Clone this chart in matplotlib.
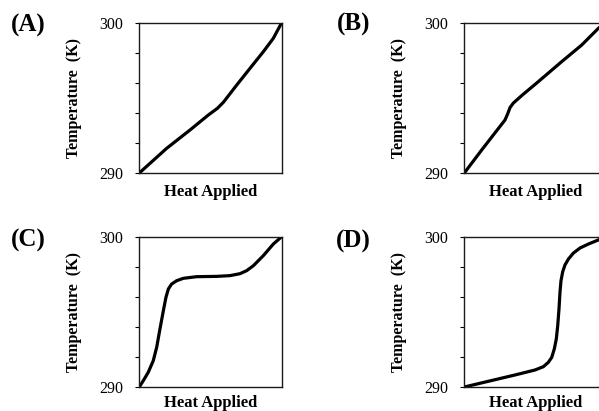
import matplotlib
matplotlib.use("Agg")
import matplotlib.pyplot as plt

# values (heat is a fraction of the x range)
a_heat = [0, 0.192, 0.356, 0.485, 0.548, 0.59, 0.684, 0.777, 0.871, 0.941, 1.0]
a_temp = [290, 291.64, 292.86, 293.86, 294.30, 294.70, 295.85, 296.96, 298.07, 298.96, 300]

b_heat = [0, 0.122, 0.286, 0.305, 0.321, 0.344, 0.403, 0.52, 0.684, 0.824, 0.941, 1.0]
b_temp = [290, 291.53, 293.53, 293.95, 294.35, 294.65, 295.15, 296.08, 297.41, 298.51, 299.62, 300.1]

c_heat = [0, 0.028, 0.063, 0.098, 0.122, 0.145, 0.169, 0.187, 0.204, 0.227, 0.262,
          0.309, 0.403, 0.543, 0.637, 0.707, 0.754, 0.801, 0.871, 0.941, 1.0]
c_temp = [290, 290.42, 290.98, 291.75, 292.64, 293.86, 295.08, 295.96, 296.52, 296.85, 297.07,
          297.23, 297.34, 297.36, 297.41, 297.54, 297.74, 298.07, 298.74, 299.51, 300]

d_heat = [0, 0.169, 0.356, 0.496, 0.555, 0.590, 0.614, 0.632, 0.646, 0.656, 0.665,
          0.672, 0.679, 0.691, 0.707, 0.731, 0.766, 0.813, 0.871, 0.946, 1.0]
d_temp = [290, 290.38, 290.80, 291.13, 291.35, 291.64, 291.97, 292.53, 293.19, 294.08, 295.19,
          296.30, 297.07, 297.67, 298.12, 298.51, 298.91, 299.25, 299.51, 299.80, 299.96]

panel_labels = ["(A)", "(B)", "(C)", "(D)"]
y_ticks = [290, 292, 294, 296, 298, 300]
y_tick_labels = ["290", "", "", "", "", "300"]

W, H = 599, 411


def px_axes(fig, left, top, width, height):
    # position in pixels from the top-left corner
    return fig.add_axes([left / W, (H - top - height) / H, width / W, height / H])


def draw_panel(ax, heat, temp, xlabel_y):
    ax.plot(heat, temp, color="black", linewidth=2.3, solid_capstyle="butt",
            solid_joinstyle="round")
    ax.set_xlim(0, 1)
    ax.set_ylim(290, 300)
    ax.set_xticks([])
    ax.set_yticks(y_ticks)
    ax.set_yticklabels(y_tick_labels)
    ax.tick_params(axis="y", direction="out", length=3, width=0.8, pad=8.5, labelsize=11.5)
    for sp in ax.spines.values():
        sp.set_linewidth(1.0)
        sp.set_color("#1a1a1a")
    ax.set_ylabel("Temperature  (K)", fontsize=11.5, fontweight="bold")
    ax.yaxis.set_label_coords(-0.40, 0.5)
    ax.set_xlabel("Heat Applied", fontsize=12, fontweight="bold", va="center")
    ax.xaxis.set_label_coords(0.5, xlabel_y)


def main():
    plt.rcParams["font.family"] = "Liberation Serif"
    fig = plt.figure(figsize=(W / 100, H / 100), dpi=100)

    ax_w, ax_h = 142.4, 150.3
    lefts = [139.3, 464.3, 139.3, 464.3]
    tops = [22.7, 22.7, 236.7, 236.7]
    xlabel_ys = [-0.126, -0.126, -0.108, -0.108]
    series = [(a_heat, a_temp), (b_heat, b_temp), (c_heat, c_temp), (d_heat, d_temp)]
    label_pos = [(28.5, 25), (353.5, 24), (28.5, 240), (353.5, 241)]

    for i in range(4):
        ax = px_axes(fig, lefts[i], tops[i], ax_w, ax_h)
        draw_panel(ax, *series[i], xlabel_ys[i])
        lx, ly = label_pos[i]
        fig.text(lx / W, 1 - ly / H, panel_labels[i], fontsize=18, fontweight="bold",
                 ha="center", va="center")

    fig.savefig("out.png", dpi=100)


if __name__ == "__main__":
    main()
